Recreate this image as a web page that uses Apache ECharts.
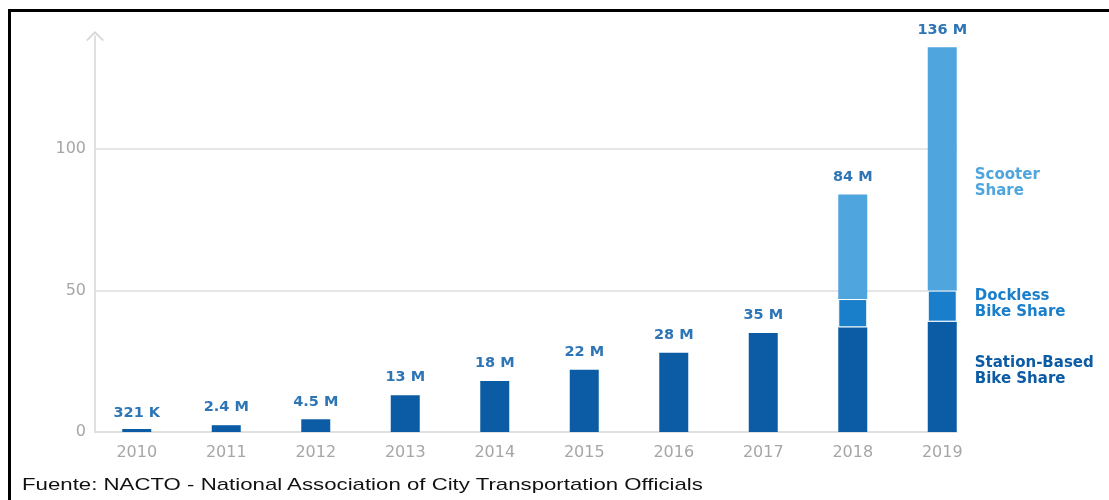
<!DOCTYPE html>
<html>
<head>
<meta charset="utf-8">
<script src="https://cdn.jsdelivr.net/npm/echarts@6/dist/echarts.min.js"></script>
<style>
  html, body { margin: 0; padding: 0; background: #fff; }
  #wrap { position: relative; width: 1109px; height: 500px; overflow: hidden; }
  #frame { position: absolute; left: 8px; top: 9px; width: 1110px; height: 500px;
           border-left: 3px solid #000; border-top: 3px solid #000; box-sizing: border-box; }
  #chart { position: absolute; left: 0; top: 0; width: 1109px; height: 500px; }
  #source { position: absolute; left: 22px; top: 475px; font-family: "Liberation Sans", Arial, sans-serif;
            font-size: 17px; color: #111; white-space: nowrap; transform-origin: 0 0; }
</style>
</head>
<body>
<div id="wrap">
  <div id="chart"></div>
  <div id="frame"></div>
  <div id="source">Fuente: NACTO - National Association of City Transportation Officials</div>
</div>
<script>
// Shared-micromobility trips per year (millions)
const years = ['2010', '2011', '2012', '2013', '2014', '2015', '2016', '2017', '2018', '2019'];
const stationBased = [0.321, 2.4, 4.5, 13, 18, 22, 28, 35, 37, 39];
const dockless     = [0, 0, 0, 0, 0, 0, 0, 0, 10, 11];
const scooter      = [0, 0, 0, 0, 0, 0, 0, 0, 37, 86];
const totalLabels  = ['321 K', '2.4 M', '4.5 M', '13 M', '18 M', '22 M', '28 M', '35 M', '84 M', '136 M'];
const seriesNames  = ['Station-Based\nBike Share', 'Dockless\nBike Share', 'Scooter\nShare'];
const yTicks = [0, 50, 100];

const colors = ['#0b5ca5', '#1a7fcb', '#4fa5dd'];
const yMax = 140;
const lastIdx = years.length - 1;

// stretch the source line to its wide set width
const src = document.getElementById('source');
src.style.transform = 'scaleX(' + (681 / src.offsetWidth) + ')';

// Build a segment series: non-empty middle segments get a white edge,
// and the 2019 column carries the series name to its right.
function segmentData(values, k, offsetY, edged) {
  return values.map((v, i) => {
    const item = { value: v };
    if (edged && v > 0) item.itemStyle = { borderColor: '#fff', borderWidth: 1 };
    if (i === lastIdx) {
      item.label = {
        show: true, position: 'right', distance: 18, offset: [0, offsetY],
        formatter: seriesNames[k], color: colors[k], align: 'left',
        fontFamily: 'DejaVu Sans', fontWeight: 'bold', fontSize: 15, lineHeight: 16
      };
    }
    return item;
  });
}

const chart = echarts.init(document.getElementById('chart'), null, { renderer: 'canvas' });

chart.setOption({
  animation: false,
  grid: [
    // axes frame
    { left: 95, right: 152, top: 36, bottom: 68 },
    // columns
    { left: 92, right: 122, top: 36, bottom: 68 }
  ],
  xAxis: [
    {
      gridIndex: 0, type: 'category', data: years,
      axisLine: { show: true, lineStyle: { color: '#d6d6d6', width: 1.5 } },
      axisTick: { show: false }, axisLabel: { show: false }, splitLine: { show: false }
    },
    {
      gridIndex: 1, type: 'category', data: years,
      axisLine: { show: false }, axisTick: { show: false },
      axisLabel: { color: '#a6a6a6', fontFamily: 'DejaVu Sans', fontSize: 16, margin: 13 }
    }
  ],
  yAxis: [
    {
      gridIndex: 0, type: 'value', min: 0, max: yMax, interval: 50,
      axisLine: {
        show: true, lineStyle: { color: '#d6d6d6', width: 1.5 },
        symbol: ['none', 'path://M0,9 L9,0 L18,9 L16.5,10 L9,2.6 L1.5,10 Z'],
        symbolSize: [18, 10]
      },
      axisTick: { show: false },
      axisLabel: {
        color: '#a6a6a6', fontFamily: 'DejaVu Sans', fontSize: 16, margin: 9,
        showMaxLabel: false,
        formatter: v => (yTicks.includes(v) ? String(v) : '')
      },
      splitLine: { show: true, showMinLine: false, showMaxLine: false,
                   lineStyle: { color: '#dedede', width: 1.5 } }
    },
    {
      gridIndex: 1, type: 'value', min: 0, max: yMax, interval: 50, show: false,
      splitLine: { show: false }
    }
  ],
  series: [
    {
      name: 'Station-Based Bike Share', type: 'bar', stack: 'trips',
      xAxisIndex: 1, yAxisIndex: 1, barWidth: 29, barMinHeight: 3,
      itemStyle: { color: colors[0] },
      data: segmentData(stationBased, 0, -6, false)
    },
    {
      name: 'Dockless Bike Share', type: 'bar', stack: 'trips',
      xAxisIndex: 1, yAxisIndex: 1, barWidth: 29,
      itemStyle: { color: colors[1] },
      data: segmentData(dockless, 1, -2, true)
    },
    {
      name: 'Scooter Share', type: 'bar', stack: 'trips',
      xAxisIndex: 1, yAxisIndex: 1, barWidth: 29,
      itemStyle: { color: colors[2] },
      data: segmentData(scooter, 2, 14, false)
    },
    {
      // zero-height cap carrying the yearly total above each column
      name: 'Total', type: 'bar', stack: 'trips',
      xAxisIndex: 1, yAxisIndex: 1, barWidth: 29,
      itemStyle: { color: 'rgba(0,0,0,0)' },
      label: {
        show: true, position: 'top', distance: 10,
        color: '#2e75b6', fontFamily: 'DejaVu Sans', fontWeight: 'bold', fontSize: 14.5,
        formatter: p => totalLabels[p.dataIndex]
      },
      data: years.map(() => 0)
    }
  ]
});
</script>
</body>
</html>
